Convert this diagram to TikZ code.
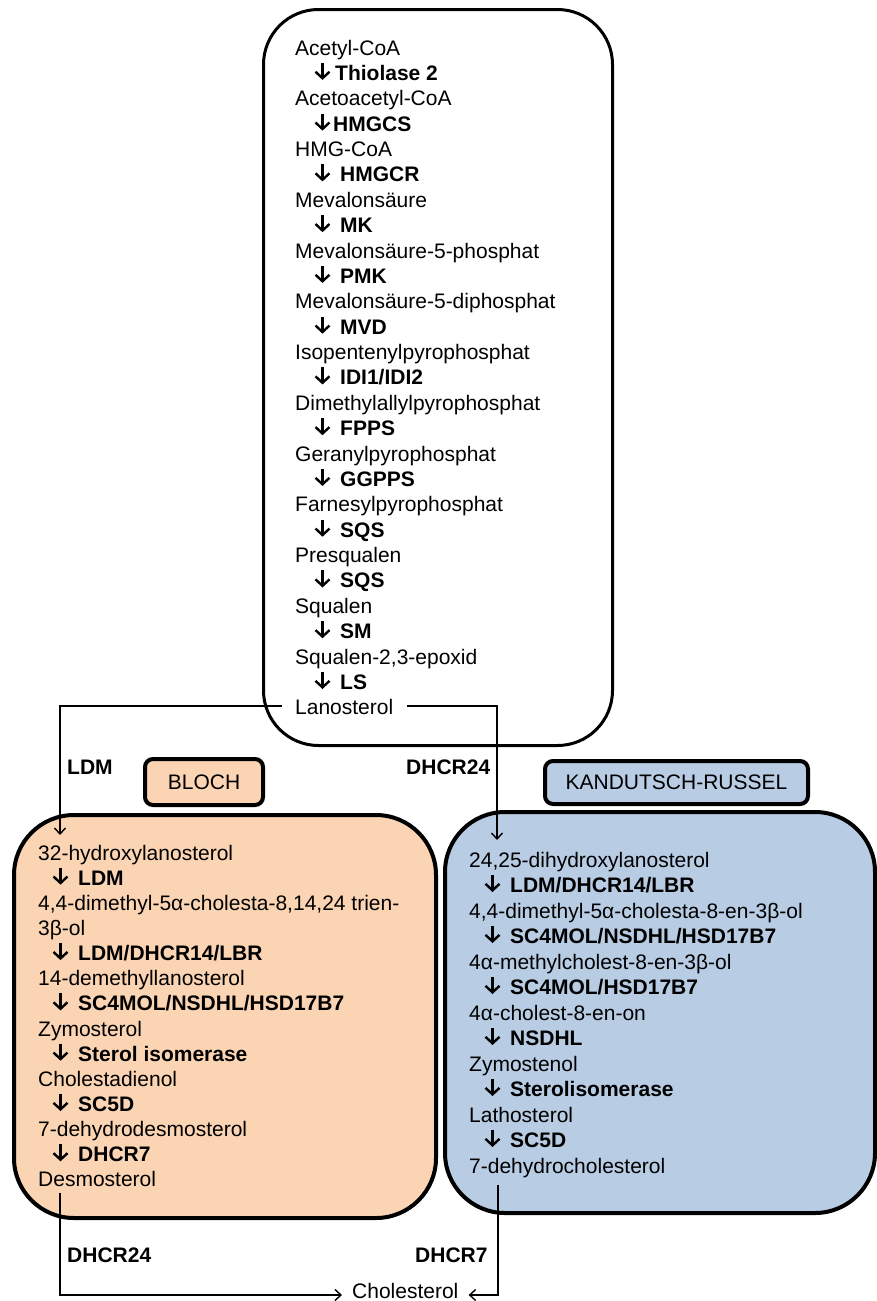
\documentclass[tikz,border=0pt]{standalone}
\usepackage{fontspec}
\setmainfont{Liberation Sans}
\usetikzlibrary{arrows.meta}
\definecolor{peach}{RGB}{251,212,180}
\definecolor{kblue}{RGB}{184,204,228}
\newcommand\fsz{\fontsize{21pt}{25pt}\selectfont}
\newcommand\dn[1][25pt]{\hspace*{#1}}
\newcommand\yT[1]{55+25.38*#1}
\newcommand\yL[1]{860+25.15*#1}
\newcommand\yR[1]{867+25.5*#1}
\tikzset{
  met/.style={anchor=base west, inner sep=0pt, font=\fsz},
  enz/.style={anchor=base west, inner sep=0pt, font=\fsz\bfseries},
  bigbox/.style={draw, line width=3.5pt, rounded corners=55pt, inner sep=0pt},
  tagbox/.style={draw, line width=4pt, rounded corners=8pt, inner sep=0pt, font=\fsz},
  conn/.style={line width=1.4pt},
  arr/.style={conn, -{Straight Barb[length=6pt,width=11pt,line width=1.4pt]}},
  enzarr/.style={line width=2.4pt, -{Straight Barb[length=6.5pt,width=14pt,line width=2.4pt]}},
}
\begin{document}
\begin{tikzpicture}[x=1pt,y=-1pt]
\useasboundingbox (0,0) rectangle (877,1301);
% containers
\node[bigbox, line width=3pt, fill=white, minimum width=349pt, minimum height=736pt] (topbox) at (438,377.5) {};
\node[bigbox, line width=4pt, fill=peach, minimum width=422pt, minimum height=403pt, rounded corners=60pt] (blochbox) at (225,1016.5) {};
\node[bigbox, line width=4pt, fill=kblue, minimum width=430pt, minimum height=401pt, rounded corners=60pt] (kandbox) at (660,1012.5) {};
\node[tagbox, fill=peach, minimum width=118pt, minimum height=46pt] (bloch) at (204,782) {BLOCH};
\node[tagbox, fill=kblue, minimum width=263pt, minimum height=43pt] (kand) at (676.5,782.5) {KANDUTSCH-RUSSEL};
% top box
\node[met] (t0) at (295,{\yT{0}}) {Acetyl-CoA};
\node[enz] (t1) at (315,{\yT{1}}) {\dn[20pt]Thiolase 2};
\node[met] (t2) at (295,{\yT{2}}) {Acetoacetyl-CoA};
\node[enz] (t3) at (315,{\yT{3}}) {\dn[18pt]HMGCS};
\node[met] (t4) at (295,{\yT{4}}) {HMG-CoA};
\node[enz] (t5) at (315,{\yT{5}}) {\dn HMGCR};
\node[met] (t6) at (295,{\yT{6}}) {Mevalonsäure};
\node[enz] (t7) at (315,{\yT{7}}) {\dn MK};
\node[met] (t8) at (295,{\yT{8}}) {Mevalonsäure-5-phosphat};
\node[enz] (t9) at (315,{\yT{9}}) {\dn PMK};
\node[met] (t10) at (295,{\yT{10}}) {Mevalonsäure-5-diphosphat};
\node[enz] (t11) at (315,{\yT{11}}) {\dn MVD};
\node[met] (t12) at (295,{\yT{12}}) {Isopentenylpyrophosphat};
\node[enz] (t13) at (315,{\yT{13}}) {\dn IDI1/IDI2};
\node[met] (t14) at (295,{\yT{14}}) {Dimethylallylpyrophosphat};
\node[enz] (t15) at (315,{\yT{15}}) {\dn FPPS};
\node[met] (t16) at (295,{\yT{16}}) {Geranylpyrophosphat};
\node[enz] (t17) at (315,{\yT{17}}) {\dn GGPPS};
\node[met] (t18) at (295,{\yT{18}}) {Farnesylpyrophosphat};
\node[enz] (t19) at (315,{\yT{19}}) {\dn SQS};
\node[met] (t20) at (295,{\yT{20}}) {Presqualen};
\node[enz] (t21) at (315,{\yT{21}}) {\dn SQS};
\node[met] (t22) at (295,{\yT{22}}) {Squalen};
\node[enz] (t23) at (315,{\yT{23}}) {\dn SM};
\node[met] (t24) at (295,{\yT{24}}) {Squalen-2,3-epoxid};
\node[enz] (t25) at (315,{\yT{25}}) {\dn LS};
\node[met] (lan) at (295,{\yT{26}}) {Lanosterol};
% Bloch box
\node[met] (l0) at (38,{\yL{0}}) {32-hydroxylanosterol};
\node[enz] (l1) at (53,{\yL{1}}) {\dn LDM};
\node[met] (l2) at (38,{\yL{2}}) {4,4-dimethyl-5α-cholesta-8,14,24 trien-};
\node[met] (l3) at (38,{\yL{3}}) {3β-ol};
\node[enz] (l4) at (53,{\yL{4}}) {\dn LDM/DHCR14/LBR};
\node[met] (l5) at (38,{\yL{5}}) {14-demethyllanosterol};
\node[enz] (l6) at (53,{\yL{6}}) {\dn SC4MOL/NSDHL/HSD17B7};
\node[met] (l7) at (38,{\yL{7}}) {Zymosterol};
\node[enz] (l8) at (53,{\yL{8}}) {\dn Sterol isomerase};
\node[met] (l9) at (38,{\yL{9}}) {Cholestadienol};
\node[enz] (l10) at (53,{\yL{10}}) {\dn SC5D};
\node[met] (l11) at (38,{\yL{11}}) {7-dehydrodesmosterol};
\node[enz] (l12) at (53,{\yL{12}}) {\dn DHCR7};
\node[met] (desmo) at (38,{\yL{13}}) {Desmosterol};
% Kandutsch-Russel box
\node[met] (r0) at (469,{\yR{0}}) {24,25-dihydroxylanosterol};
\node[enz] (r1) at (485,{\yR{1}}) {\dn LDM/DHCR14/LBR};
\node[met] (r2) at (469,{\yR{2}}) {4,4-dimethyl-5α-cholesta-8-en-3β-ol};
\node[enz] (r3) at (485,{\yR{3}}) {\dn SC4MOL/NSDHL/HSD17B7};
\node[met] (r4) at (469,{\yR{4}}) {4α-methylcholest-8-en-3β-ol};
\node[enz] (r5) at (485,{\yR{5}}) {\dn SC4MOL/HSD17B7};
\node[met] (r6) at (469,{\yR{6}}) {4α-cholest-8-en-on};
\node[enz] (r7) at (485,{\yR{7}}) {\dn NSDHL};
\node[met] (r8) at (469,{\yR{8}}) {Zymostenol};
\node[enz] (r9) at (485,{\yR{9}}) {\dn Sterolisomerase};
\node[met] (r10) at (469,{\yR{10}}) {Lathosterol};
\node[enz] (r11) at (485,{\yR{11}}) {\dn SC5D};
\node[met] (dhc) at (469,{\yR{12}}) {7-dehydrocholesterol};
% step arrows in front of the enzyme names
\foreach \n in {t1,t3,t5,t7,t9,t11,t13,t15,t17,t19,t21,t23,t25,l1,l4,l6,l8,l10,l12,r1,r3,r5,r7,r9,r11}
  \draw[enzarr] ([xshift=7.5pt,yshift=17.5pt]\n.base west) -- ([xshift=7.5pt,yshift=0.5pt]\n.base west);
% end product and connector labels
\node[met] (chol) at (352,1298.5) {Cholesterol};
\node[enz] (lbl1) at (67,774) {LDM};
\node[enz] (lbl2) at (406,774) {DHCR24};
\node[enz] (lbl3) at (67,1262) {DHCR24};
\node[enz] (lbl4) at (415,1262) {DHCR7};
% connectors
\coordinate (ldmtip) at (60,835);
\coordinate (dhtip) at (497,840);
\draw[arr] ([xshift=-13pt,yshift=1.5pt]lan.west) -| (ldmtip);
\draw[arr] ([xshift=14pt,yshift=1.5pt]lan.east) -| (dhtip);
\draw[arr] ([xshift=22pt,yshift=-6pt]desmo.base west) |- ([xshift=-10pt,yshift=3.5pt]chol.base west);
\draw[arr] ([xshift=29pt,yshift=-12pt]dhc.base west) |- ([xshift=10pt,yshift=3.5pt]chol.base east);
\end{tikzpicture}
\end{document}
